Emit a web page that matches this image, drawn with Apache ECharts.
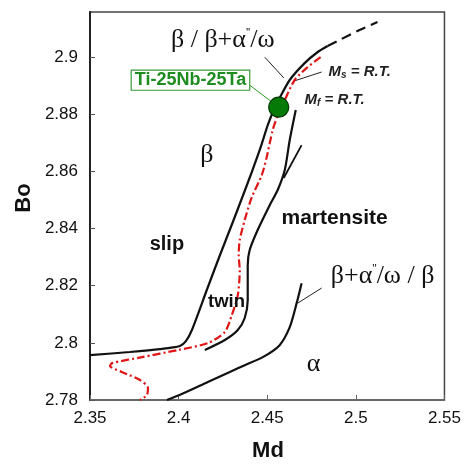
<!DOCTYPE html>
<html>
<head>
<meta charset="utf-8">
<script src="https://cdn.jsdelivr.net/npm/echarts@6/dist/echarts.min.js"></script>
<style>
  html, body { margin: 0; padding: 0; background: #fff; }
  #chart { width: 464px; height: 464px; }
</style>
</head>
<body>
<div id="chart"></div>
<script>
// Bo–Md phase stability map. Each curve is a list of [Md, Bo] pairs.
const slipTwinBoundary = [
  [2.3500, 2.7957], [2.3725, 2.7968], [2.3894, 2.7978], [2.4007, 2.7989],
  [2.4041, 2.8006], [2.4075, 2.8045], [2.4159, 2.8185], [2.4227, 2.8297],
  [2.4306, 2.8423], [2.4362, 2.8514], [2.4413, 2.8598], [2.4463, 2.8685],
  [2.4503, 2.8762], [2.4537, 2.8815], [2.4570, 2.8857], [2.4627, 2.8920],
  [2.4711, 2.8979], [2.4785, 2.9018], [2.4841, 2.9039]
];
const boundaryExtension = [
  [2.4841, 2.9039], [2.4908, 2.9060], [2.5021, 2.9095], [2.5122, 2.9123]
];
const msLine = [
  [2.4801, 2.9000], [2.4728, 2.8965], [2.4655, 2.8920], [2.4599, 2.8850],
  [2.4559, 2.8797], [2.4531, 2.8745], [2.4497, 2.8650], [2.4469, 2.8587],
  [2.4413, 2.8510], [2.4373, 2.8430], [2.4345, 2.8360], [2.4339, 2.8307],
  [2.4345, 2.8255], [2.4334, 2.8167], [2.4300, 2.8097], [2.4261, 2.8038],
  [2.4165, 2.7999], [2.3996, 2.7975], [2.3793, 2.7950], [2.3624, 2.7929],
  [2.3613, 2.7919], [2.3680, 2.7898], [2.3782, 2.7870], [2.3827, 2.7842],
  [2.3821, 2.7817], [2.3782, 2.7800]
];
const mfLine = [
  [2.4661, 2.8815], [2.4627, 2.8710], [2.4599, 2.8605], [2.4559, 2.8535],
  [2.4514, 2.8482], [2.4446, 2.8395], [2.4401, 2.8325], [2.4390, 2.8272],
  [2.4390, 2.8150], [2.4373, 2.8087], [2.4334, 2.8045], [2.4261, 2.8010],
  [2.4148, 2.7975]
];
const mfStroke = [[2.4694, 2.8692], [2.4593, 2.8577]];
const alphaBoundary = [
  [2.3934, 2.7800], [2.4018, 2.7821], [2.4165, 2.7863], [2.4289, 2.7898],
  [2.4373, 2.7922], [2.4475, 2.7950], [2.4570, 2.7992], [2.4627, 2.8055],
  [2.4666, 2.8139], [2.4694, 2.8209]
];
// Ti-25Nb-25Ta alloy
const alloyPoint = [2.4565, 2.8825];

// Leader lines from labels to curves
const blackLeaders = [
  [[2.4486, 2.9000], [2.4594, 2.8927]],
  [[2.4807, 2.8948], [2.4649, 2.8916]],
  [[2.4672, 2.8139], [2.4807, 2.8192]]
];
const greenLeader = [[2.4401, 2.8902], [2.4520, 2.8846]];

// Axis ticks
const xTicks = { min: 2.35, max: 2.55, step: 0.05 };
const yTicks = { min: 2.78, max: 2.9158, step: 0.02 };

const SERIF = '"Liberation Serif", "DejaVu Serif", serif';
const SANS = '"Liberation Sans", Arial, sans-serif';

// Region and boundary labels: [Md, Bo, key]
const labelSpots = [
  [2.4249, 2.9060, 'top'],
  [2.4159, 2.8657, 'beta'],
  [2.3934, 2.8346, 'slip'],
  [2.4270, 2.8143, 'twin'],
  [2.4880, 2.8437, 'mart'],
  [2.5151, 2.8234, 'bottom'],
  [2.4762, 2.7926, 'alpha']
];
const labelText = {
  top: '{g|β / β+α}{p|\'\'}{g|/ω}',
  beta: '{g|β}',
  slip: '{s|slip}',
  twin: '{s2|twin}',
  mart: '{s3|martensite}',
  bottom: '{g|β+α}{p|\'\'}{g|/ω / β}',
  alpha: '{g|α}'
};
const sideSpots = [
  [2.4846, 2.8948, 'ms'],
  [2.4711, 2.8850, 'mf']
];
const sideText = {
  ms: '{m|M}{sub|s}{m| = R.T.}',
  mf: '{m|M}{sub|f}{m| = R.T.}'
};

const richStyles = {
  g: { fontFamily: SERIF, fontSize: 26, color: '#111' },
  p: { fontFamily: SERIF, fontSize: 12, color: '#111', verticalAlign: 'top', padding: [0, 0, 8, 0] },
  s: { fontFamily: SANS, fontSize: 20, fontWeight: 'bold', color: '#111' },
  s2: { fontFamily: SANS, fontSize: 18.5, fontWeight: 'bold', color: '#111' },
  s3: { fontFamily: SANS, fontSize: 21, fontWeight: 'bold', color: '#111' },
  m: { fontFamily: SANS, fontSize: 15, fontStyle: 'italic', fontWeight: 'bold', color: '#222' },
  sub: { fontFamily: SANS, fontSize: 10, fontStyle: 'italic', fontWeight: 'bold', color: '#222', verticalAlign: 'bottom', padding: [6, 0, 0, 0] }
};

const chart = echarts.init(document.getElementById('chart'), null, { renderer: 'canvas' });

function curve(name, data, color, width, type) {
  return {
    name, type: 'line', data, symbol: 'none', smooth: 0.25, z: 3,
    lineStyle: { color, width, type: type || 'solid' }
  };
}

function textLayer(data, formatter, align) {
  return {
    type: 'scatter', z: 6, symbolSize: 0, silent: true, data,
    itemStyle: { opacity: 1, color: 'transparent' },
    label: {
      show: true, position: 'inside', align, verticalAlign: 'middle',
      formatter, rich: richStyles
    }
  };
}

chart.setOption({
  animation: false,
  backgroundColor: '#fff',
  grid: { left: 90, right: 19, top: 12, bottom: 64, show: true, borderColor: '#444', borderWidth: 1.5 },
  xAxis: {
    type: 'value', min: xTicks.min, max: xTicks.max, interval: xTicks.step,
    splitLine: { show: false },
    axisLine: { lineStyle: { color: '#666', width: 1.5 } },
    axisTick: { inside: true, length: 5, lineStyle: { color: '#666' } },
    axisLabel: { fontFamily: SANS, fontSize: 17, color: '#111', margin: 10 }
  },
  yAxis: {
    type: 'value', min: yTicks.min, max: yTicks.max, interval: yTicks.step,
    splitLine: { show: false },
    axisLine: { lineStyle: { color: '#222', width: 2 } },
    axisTick: { inside: true, length: 5, lineStyle: { color: '#555' } },
    axisLabel: { fontFamily: SANS, fontSize: 17, color: '#111', margin: 12, showMaxLabel: false }
  },
  graphic: [
    { type: 'text', x: 24, y: 198, rotation: Math.PI / 2,
      style: { text: 'Bo', font: 'bold 22px ' + SANS, fill: '#111', textAlign: 'center', textVerticalAlign: 'middle' } },
    { type: 'text', x: 268, y: 451,
      style: { text: 'Md', font: 'bold 22px ' + SANS, fill: '#111', textAlign: 'center', textVerticalAlign: 'middle' } }
  ],
  series: [
    curve('slip / twin', slipTwinBoundary, '#111', 2.2),
    curve('extension', boundaryExtension, '#111', 2.2, [10, 6]),
    curve('Ms = R.T.', msLine, '#e01515', 2.2, [8, 3, 2, 3]),
    curve('Mf = R.T.', mfLine, '#111', 2.2),
    curve('Mf stroke', mfStroke, '#111', 1.8),
    curve('alpha boundary', alphaBoundary, '#111', 2.2),
    {
      type: 'lines', coordinateSystem: 'cartesian2d', z: 2,
      data: blackLeaders.map(c => ({ coords: c })),
      lineStyle: { color: '#222', width: 1, opacity: 1 }
    },
    {
      type: 'lines', coordinateSystem: 'cartesian2d', z: 2,
      data: [{ coords: greenLeader }],
      lineStyle: { color: '#2a9a2a', width: 1, opacity: 1 }
    },
    {
      type: 'scatter', z: 5, symbolSize: 20, data: [alloyPoint],
      itemStyle: { color: '#067a06', borderColor: '#003800', borderWidth: 1.2, opacity: 1 },
      label: {
        show: true, position: 'left', distance: 0, offset: [-19, -27],
        formatter: 'Ti-25Nb-25Ta',
        fontFamily: SANS, fontSize: 18, fontWeight: 'bold', color: '#1e8c1e',
        backgroundColor: '#fff', borderColor: '#3a9a3a', borderWidth: 1.2, padding: [1, 3, 0, 3]
      }
    },
    textLayer(labelSpots, p => labelText[p.data[2]], 'center'),
    textLayer(sideSpots, p => sideText[p.data[2]], 'left')
  ]
});
</script>
</body>
</html>
